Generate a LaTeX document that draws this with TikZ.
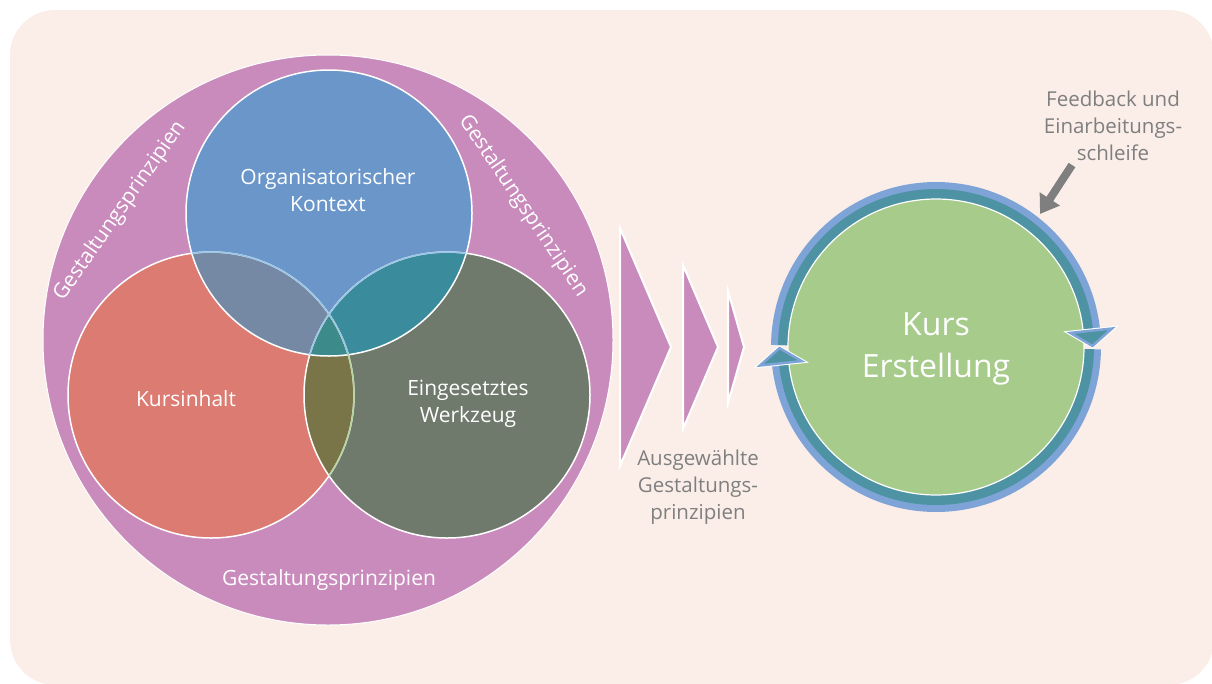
\documentclass[tikz,border=0pt]{standalone}
\usepackage{xcolor}
\usepackage{fontspec}
\setmainfont{Open Sans}
\usepackage{tikz}
\usetikzlibrary{arrows.meta}

\definecolor{bgpeach}{HTML}{FBEEE8}
\definecolor{gpurple}{HTML}{C98BBB}
\definecolor{venblue}{HTML}{6B96CA}
\definecolor{venred}{HTML}{DC7B71}
\definecolor{vengray}{HTML}{6F7A6D}
\definecolor{venRB}{HTML}{7689A4}
\definecolor{venBG}{HTML}{3A8B9C}
\definecolor{venRG}{HTML}{7A7449}
\definecolor{venRGB}{HTML}{3C8A8A}
\definecolor{lineblue}{HTML}{9CC6E6}
\definecolor{linegreen}{HTML}{B5D6A2}
\definecolor{kursgreen}{HTML}{A6CB8A}
\definecolor{ringblue}{HTML}{7EA3D7}
\definecolor{ringteal}{HTML}{4D93A3}
\definecolor{textgray}{HTML}{7F7F7F}

\begin{document}
\begin{tikzpicture}[x=1pt,y=-1pt,
    lbl/.style={draw=none, text=white, font=\fontsize{21}{27}\selectfont, align=center},
    glbl/.style={draw=none, text=textgray, font=\fontsize{20.5}{27}\selectfont, align=center},
    chev/.style={fill=gpurple, draw=white, line width=2pt},
    tip/.style={fill=ringteal, draw=ringblue, line width=2.5pt, line join=miter}]
             \useasboundingbox (0,0) rectangle (1212,683);
             \fill[bgpeach, rounded corners=45pt] (10,10) rectangle (1214,685);

             % Gestaltungsprinzipien
             \filldraw[fill=gpurple, draw=white, line width=1pt] (328,340) circle[radius=285];

             \coordinate (cO) at (329,213);
             \coordinate (cK) at (211,395);
             \coordinate (cW) at (447,395);

             \fill[venred] (cK) circle[radius=143];
             \fill[vengray] (cW) circle[radius=143];
             \fill[venblue] (cO) circle[radius=143];
             \begin{scope}
               \clip (cK) circle[radius=143];
               \fill[venRB] (cO) circle[radius=143];
             \end{scope}
             \begin{scope}
               \clip (cW) circle[radius=143];
               \fill[venBG] (cO) circle[radius=143];
             \end{scope}
             \begin{scope}
               \clip (cK) circle[radius=143];
               \fill[venRG] (cW) circle[radius=143];
               \clip (cO) circle[radius=143];
               \fill[venRGB] (cW) circle[radius=143];
             \end{scope}
             \draw[white, line width=1.5pt] (cK) circle[radius=143] (cW) circle[radius=143] (cO) circle[radius=143];
             \begin{scope}
               \clip (cW) circle[radius=143];
               \draw[linegreen, line width=1.5pt] (cK) circle[radius=143];
             \end{scope}
             \begin{scope}
               \clip (cO) circle[radius=143];
               \draw[lineblue, line width=1.5pt] (cK) circle[radius=143] (cW) circle[radius=143];
             \end{scope}

             \node[lbl] (orga) at (328,190) {Organisatorischer\\Kontext};
             \node[lbl] (inhalt) at (186,399) {Kursinhalt};
             \node[lbl] (werkzeug) at (468,404) {Eingesetztes\\Werkzeug};
             \node[lbl, rotate=55] (gpleft) at (120,211) {Gestaltungsprinzipien};
             \node[lbl, rotate=-56] (gpright) at (523,206) {Gestaltungsprinzipien};
             \node[lbl] (gpbottom) at (329,580) {Gestaltungsprinzipien};

             % Auswahl
             \filldraw[chev] (620,228) -- (671,347) -- (620,466) -- cycle;
             \filldraw[chev] (683,265) -- (718,347) -- (683,429) -- cycle;
             \filldraw[chev] (728,291) -- (744,347) -- (728,403) -- cycle;
             \node[glbl] (auswahl) at (698,487) {Ausgewählte\\Gestaltungs-\\prinzipien};

             % Kurs
             \coordinate (cE) at (936,347);
             \fill[kursgreen] (cE) circle[radius=148];
             \begin{scope}[shift={(cE)}]
               \draw[ringblue, line width=17pt] (180.7:156.5) arc[start angle=180.7, end angle=354.5, radius=156.5];
               \draw[ringteal, line width=10pt] (180.7:153) arc[start angle=180.7, end angle=354.5, radius=153];
               \draw[ringblue, line width=17pt] (0.8:156.5) arc[start angle=0.8, end angle=174.5, radius=156.5];
               \draw[ringteal, line width=10pt] (0.8:153) arc[start angle=0.8, end angle=174.5, radius=153];
             \end{scope}
             \draw[white, line width=1.2pt] (cE) circle[radius=148];
             \begin{scope}[shift={(cE)}]
               \draw[white, line width=4.5pt, line join=miter] (354:135) -- (359.6:156.5) -- (354:177) -- cycle;
               \draw[tip] (354:135) -- (359.6:156.5) -- (354:177) -- cycle;
               \draw[white, line width=4.5pt, line join=miter] (174:135) -- (179.6:156.5) -- (174:177) -- cycle;
               \draw[tip] (174:135) -- (179.6:156.5) -- (174:177) -- cycle;
             \end{scope}
             \node[draw=none, text=white, font=\fontsize{32}{42}\selectfont, align=center] (kurs) at (936,349) {Kurs\\Erstellung};

             % Feedback
             \node[glbl] (feedback) at (1113,126) {Feedback und\\Einarbeitungs-\\schleife};
             \coordinate (fbstart) at (1072,165);
             \coordinate (fbend) at (1040,214);
             \draw[textgray, line width=8pt, -{Triangle[length=18pt,width=23pt]}] (fbstart) -- (fbend);

             \end{tikzpicture}
\end{document}
